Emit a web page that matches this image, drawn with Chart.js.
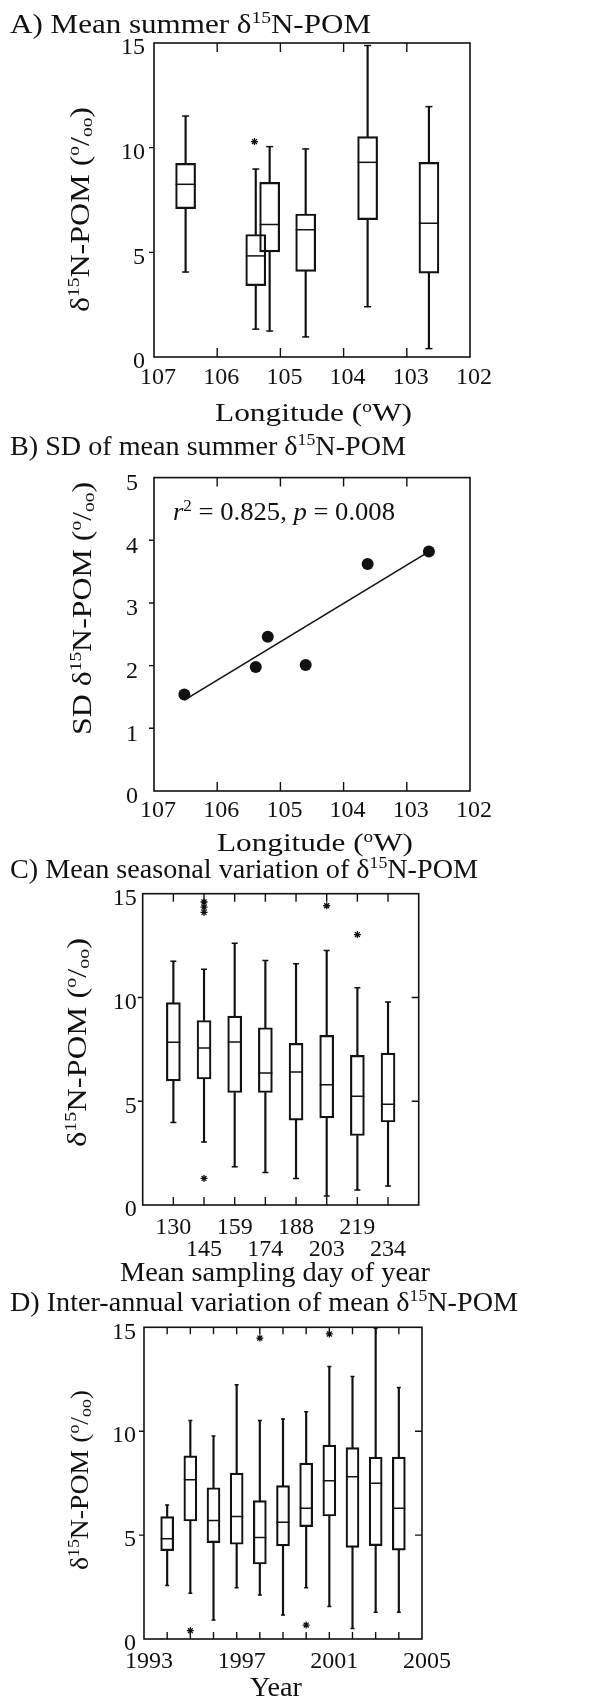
<!DOCTYPE html>
<html><head><meta charset="utf-8">
<script src="https://cdn.jsdelivr.net/npm/chart.js@4.4.1/dist/chart.umd.min.js"></script>
<style>
html,body{margin:0;padding:0;background:#fff;}
#wrap{position:relative;width:589px;height:1698px;overflow:hidden;background:#fff;}
canvas{position:absolute;left:0;}
</style></head><body><div id="wrap">
<canvas id="cA"></canvas><canvas id="cB"></canvas><canvas id="cC"></canvas><canvas id="cD"></canvas>
</div>
<script>
// ---------- DATA ----------
// A) Mean summer d15N-POM by longitude (box plots)
const lonA = [106.5, 105.39, 105.17, 104.6, 103.62, 102.65];
const minA = [4.06, 1.33, 1.24, 0.96, 2.4, 0.4];
const q1A  = [7.09, 3.41, 5.02, 4.09, 6.56, 4.01];
const medA = [8.25, 4.83, 6.33, 6.08, 9.3, 6.39];
const q3A  = [9.25, 5.85, 8.34, 6.83, 10.53, 9.3];
const maxA = [11.51, 8.98, 10.05, 9.94, 14.88, 11.96];
const outXA = [105.41];
const outYA = [10.29];

// B) SD of mean summer d15N-POM vs longitude
const lonB = [106.52, 105.39, 105.2, 104.6, 103.62, 102.65];
const sdB  = [1.54, 1.98, 2.46, 2.01, 3.62, 3.82];
const fitLonB = [106.52, 102.65];
const fitSdB  = [1.45, 3.82];

// C) Seasonal variation (mean sampling day of year)
const daysC = ['130', '145', '159', '174', '188', '203', '219', '234'];
const posC  = [1, 2, 3, 4, 5, 6, 7, 8];
const minC = [3.98, 3.03, 1.84, 1.57, 1.28, 0.43, 0.72, 0.91];
const q1C  = [5.98, 6.07, 5.42, 5.42, 4.09, 4.2, 3.35, 4.0];
const medC = [7.84, 7.56, 7.85, 6.36, 6.41, 5.8, 5.24, 4.86];
const q3C  = [9.75, 8.89, 9.1, 8.54, 7.79, 8.17, 7.21, 7.32];
const maxC = [11.75, 11.36, 12.61, 11.78, 11.62, 12.26, 10.47, 9.78];
const outXC = [2, 2, 2, 2, 6, 7];
const outYC = [14.6, 14.35, 14.1, 1.28, 14.42, 13.03];

// D) Inter-annual variation
const yearsD = [1994, 1995, 1996, 1997, 1998, 1999, 2000, 2001, 2002, 2003, 2004];
const yearLabelsD = ['1993', '1997', '2001', '2005'];
const minD = [2.57, 2.2, 0.91, 2.47, 2.12, 1.16, 2.47, 1.56, 0.51, 1.29, 1.29];
const q1D  = [4.25, 5.68, 4.64, 4.56, 3.61, 4.48, 5.41, 5.92, 4.41, 4.49, 4.28];
const medD = [4.83, 7.66, 5.7, 5.89, 4.88, 5.62, 6.29, 7.62, 7.81, 7.5, 6.29];
const q3D  = [5.89, 8.81, 7.28, 7.98, 6.66, 7.38, 8.46, 9.33, 9.21, 8.75, 8.75];
const maxD = [6.45, 10.51, 9.77, 12.23, 10.51, 10.59, 10.94, 13.11, 12.63, 14.96, 12.1];
const outXD = [1995, 1998, 2000, 2001];
const outYD = [0.4, 14.48, 0.67, 14.68];

// ---------- HELPERS ----------
const FONT = '"Liberation Serif", "Times New Roman", Times, serif';
const INK = '#111';
const TICK_SIZE = 24;

function fontFor(p, size) {
  const s = (p.m === 'sup' || p.m === 'sub') ? Math.round(size * 0.62) : size;
  return (p.i ? 'italic ' : '') + s + 'px ' + FONT;
}
function drawRich(ctx, spec) {
  const {parts, x, y, size, w, rot} = spec;
  ctx.save();
  ctx.fillStyle = INK;
  ctx.textBaseline = 'alphabetic';
  ctx.textAlign = 'left';
  let total = 0;
  for (const p of parts) { ctx.font = fontFor(p, size); total += ctx.measureText(p.t).width; }
  ctx.translate(x, y);
  if (rot) ctx.rotate(-Math.PI / 2);
  ctx.scale(w ? w / total : 1, 1);
  let cx = 0;
  for (const p of parts) {
    ctx.font = fontFor(p, size);
    const dy = p.m === 'sup' ? -size * 0.36 : (p.m === 'sub' ? size * 0.1 : 0);
    ctx.fillText(p.t, cx, dy);
    cx += ctx.measureText(p.t).width;
  }
  ctx.restore();
}
const D15 = [{t: 'δ'}, {t: '15', m: 'sup'}, {t: 'N-POM'}];
const PERMIL = [{t: ' ('}, {t: 'o', m: 'sup'}, {t: '/'}, {t: 'oo', m: 'sub'}, {t: ')'}];
const LONGT = [{t: 'Longitude ('}, {t: 'o', m: 'sup'}, {t: 'W)'}];

const extras = {};
const framePlugin = {
  id: 'frame',
  afterDatasetsDraw(chart) {
    const o = extras[chart.canvas.id]; if (!o) return;
    const {ctx, chartArea: a} = chart;
    const xs = chart.scales.x, ys = chart.scales.y;
    ctx.save();
    ctx.strokeStyle = INK;
    ctx.lineWidth = 1.6;
    ctx.strokeRect(a.left, a.top, a.right - a.left, a.bottom - a.top);
    ctx.lineWidth = 1.4;
    ctx.beginPath();
    for (const v of o.xTicks) {
      const px = xs.getPixelForValue(v);
      ctx.moveTo(px, a.bottom); ctx.lineTo(px, a.bottom - o.tl);
      ctx.moveTo(px, a.top); ctx.lineTo(px, a.top + o.tl);
    }
    for (const v of o.yLeft) {
      const py = ys.getPixelForValue(v);
      ctx.moveTo(a.left - 5, py); ctx.lineTo(a.left, py);
    }
    for (const v of (o.yRight || [])) {
      const py = ys.getPixelForValue(v);
      ctx.moveTo(a.right, py); ctx.lineTo(a.right - 7, py);
    }
    ctx.stroke();
    ctx.restore();
  },
  afterDraw(chart) {
    const o = extras[chart.canvas.id]; if (!o) return;
    for (const t of o.texts) drawRich(chart.ctx, t);
  }
};
Chart.register(framePlugin);

const YW = 70;   // fixed y-axis box width
function axis(o, which) {
  return {
    type: 'linear', min: o.min, max: o.max, reverse: !!o.reverse, offset: false,
    afterFit: which === 'x' ? (s => { s.height = o.box; }) : (s => { s.width = YW; }),
    grid: {display: false, drawTicks: false}, border: {display: false},
    ticks: {
      stepSize: o.step, autoSkip: false, maxRotation: 0, minRotation: 0,
      padding: o.pad, labelOffset: o.lo || 0, color: INK,
      font: {family: FONT, size: TICK_SIZE, lineHeight: o.lh || 1},
      callback: o.cb || (v => String(v))
    }
  };
}
// area: desired chart area {l, r, t, b} in canvas-local px; h: canvas height
function baseOptions(area, h, xo, yo) {
  return {
    responsive: false, animation: false, devicePixelRatio: 1, events: [],
    layout: {padding: {left: area.l - YW, right: 589 - area.r, top: area.t, bottom: h - area.b - xo.box}},
    plugins: {legend: {display: false}, tooltip: {enabled: false}},
    scales: {x: axis(xo, 'x'), y: axis(yo, 'y')}
  };
}
function setupCanvas(id, top, h) {
  const c = document.getElementById(id);
  c.width = 589; c.height = h;
  c.style.top = top + 'px'; c.style.width = '589px'; c.style.height = h + 'px';
  return c;
}
function boxSets(xs, mins, q1s, meds, q3s, maxs, outX, outY, bw, capR) {
  const pts = ys => xs.map((x, i) => ({x, y: ys[i]}));
  const rng = (a, b) => xs.map((x, i) => ({x, y: [a[i], b[i]]}));
  const wh = {type: 'bar', backgroundColor: INK, borderWidth: 0, barThickness: 1.5, grouped: false, order: 5};
  return [
    Object.assign({data: rng(mins, q1s)}, wh),
    Object.assign({data: rng(q3s, maxs)}, wh),
    {type: 'bar', data: rng(q1s, q3s), backgroundColor: 'rgba(255,255,255,0)', borderColor: INK,
     borderWidth: 1.5, borderSkipped: false, barThickness: bw, grouped: false, order: 4},
    {type: 'line', showLine: false, data: pts(meds), pointStyle: 'line', pointRadius: bw / 2,
     pointBorderWidth: 1.5, pointBorderColor: INK, pointBackgroundColor: INK, order: 3},
    {type: 'line', showLine: false, data: pts(mins).concat(pts(maxs)), pointStyle: 'line', pointRadius: capR,
     pointBorderWidth: 1.5, pointBorderColor: INK, pointBackgroundColor: INK, order: 2},
    {type: 'line', showLine: false, data: outX.map((x, i) => ({x, y: outY[i]})), pointStyle: 'star',
     pointRadius: 3.5, pointBorderWidth: 1.3, pointBorderColor: INK, pointBackgroundColor: INK, order: 1}
  ];
}

// ---------- PANEL A ----------
setupCanvas('cA', 0, 432);
extras.cA = {
  xTicks: [106, 105, 104, 103], yLeft: [5, 10], tl: 9,
  texts: [
    {parts: [{t: 'A) Mean summer '}].concat(D15), x: 10, y: 33, size: 27, w: 361},
    {parts: LONGT, x: 215, y: 421, size: 26, w: 197},
    {parts: D15.concat(PERMIL), x: 89, y: 312, size: 28, w: 205, rot: true}
  ]
};
new Chart(document.getElementById('cA'), {
  type: 'bar',
  data: {datasets: boxSets(lonA, minA, q1A, medA, q3A, maxA, outXA, outYA, 20, 3.5)},
  options: baseOptions({l: 154, r: 470, t: 43, b: 357}, 432,
    {min: 102, max: 107, step: 1, reverse: true, pad: 9, lo: 4, box: 40},
    {min: 0, max: 15, step: 5, pad: 9, lo: 5})
});

// ---------- PANEL B ----------
setupCanvas('cB', 420, 445);
extras.cB = {
  xTicks: [106, 105, 104, 103], yLeft: [1, 2, 3, 4], tl: 9,
  texts: [
    {parts: [{t: 'B) SD of mean summer '}].concat(D15), x: 10, y: 35, size: 27, w: 396},
    {parts: [{t: 'r', i: true}, {t: '2', m: 'sup'}, {t: ' = 0.825, '}, {t: 'p', i: true}, {t: ' = 0.008'}],
     x: 173, y: 100, size: 25, w: 222},
    {parts: LONGT, x: 217, y: 431, size: 26, w: 196},
    {parts: [{t: 'SD '}].concat(D15, PERMIL), x: 91, y: 315, size: 28, w: 253, rot: true}
  ]
};
new Chart(document.getElementById('cB'), {
  type: 'scatter',
  data: {datasets: [
    {data: lonB.map((x, i) => ({x, y: sdB[i]})), pointRadius: 6, pointBackgroundColor: INK,
     pointBorderWidth: 0, order: 1},
    {type: 'line', data: fitLonB.map((x, i) => ({x, y: fitSdB[i]})), borderColor: INK, borderWidth: 1.6,
     pointRadius: 0, showLine: true, fill: false, order: 2}
  ]},
  options: baseOptions({l: 154, r: 470, t: 57.6, b: 371}, 445,
    {min: 102, max: 107, step: 1, reverse: true, pad: 8, lo: 4, box: 40},
    {min: 0, max: 5, step: 1, pad: 16, lo: 6})
});

// ---------- PANEL C ----------
setupCanvas('cC', 850, 440);
extras.cC = {
  xTicks: posC, yLeft: [5, 10], yRight: [5, 10], tl: 8,
  texts: [
    {parts: [{t: 'C) Mean seasonal variation of '}].concat(D15), x: 10, y: 28, size: 27, w: 468},
    {parts: [{t: 'Mean sampling day of year'}], x: 120, y: 431, size: 27, w: 310},
    {parts: D15.concat(PERMIL), x: 86, y: 297, size: 28, w: 209, rot: true}
  ]
};
new Chart(document.getElementById('cC'), {
  type: 'bar',
  data: {datasets: boxSets(posC, minC, q1C, medC, q3C, maxC, outXC, outYC, 14, 3)},
  options: baseOptions({l: 142.7, r: 418.7, t: 43.7, b: 355}, 440,
    {min: 0, max: 9, step: 1, pad: 12, lh: 0.9, box: 66,
     cb: v => (v >= 1 && v <= 8) ? (v % 2 === 1 ? [daysC[v - 1], ''] : ['', daysC[v - 1]]) : ''},
    {min: 0, max: 15, step: 5, pad: 6, lo: 5})
});

// ---------- PANEL D ----------
setupCanvas('cD', 1260, 438);
extras.cD = {
  xTicks: yearsD, yLeft: [5, 10], yRight: [5, 10], tl: 7,
  texts: [
    {parts: [{t: 'D) Inter-annual variation of mean '}].concat(D15), x: 10, y: 51, size: 27, w: 508},
    {parts: [{t: 'Year'}], x: 250, y: 436, size: 27, w: 52},
    {parts: D15.concat(PERMIL), x: 88, y: 310, size: 25, w: 180, rot: true}
  ]
};
new Chart(document.getElementById('cD'), {
  type: 'bar',
  data: {datasets: boxSets(yearsD, minD, q1D, medD, q3D, maxD, outXD, outYD, 13, 2)},
  options: baseOptions({l: 144, r: 422, t: 67.3, b: 379}, 438,
    {min: 1993, max: 2005, step: 1, pad: 11, lo: 5, box: 40,
     cb: v => yearLabelsD.includes(String(v)) ? String(v) : ''},
    {min: 0, max: 15, step: 5, pad: 8, lo: 5})
});
</script>
</body></html>
